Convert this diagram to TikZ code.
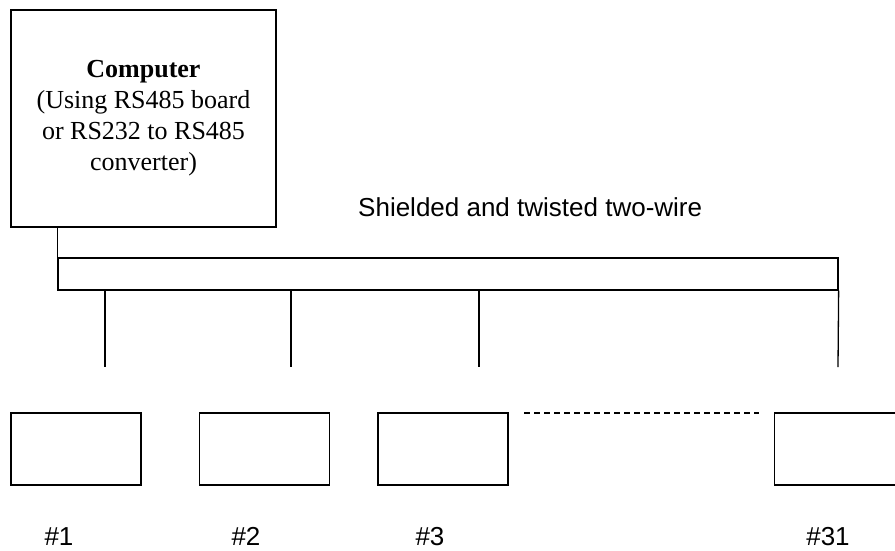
\documentclass[tikz,border=0pt]{standalone}
\usepackage{fontspec}
\setmainfont{Liberation Serif}
\newfontfamily\arialfont{Liberation Sans}
\usetikzlibrary{calc}

\begin{document}
\begin{tikzpicture}[x=1pt, y=-1pt]
        % ================= 样式定义 =================
        \tikzset{
            % 电脑方框:白底黑边,Times 字体
            pcbox/.style={draw=black, line width=1.3pt, fill=white, minimum width=265pt, minimum height=217pt, inner sep=0pt, align=center, font=\fontsize{26}{31}\selectfont},
            % 从站方框 (空白)
            devbox/.style={draw=black, line width=1.3pt, minimum width=130pt, minimum height=72pt, inner sep=0pt},
            % 双绞线总线
            busbox/.style={draw=black, line width=1.3pt, minimum width=780pt, minimum height=32pt, inner sep=0pt},
            % 普通连线
            wire/.style={line width=1.3pt, black},
            % 省略号虚线
            gapline/.style={line width=1.3pt, black, dash pattern=on 6pt off 4pt},
            % Arial 标注
            sanslabel/.style={font=\arialfont\fontsize{26}{30}\selectfont, inner sep=0pt}
        }

        % 画布范围 (与原图一致)
        \clip (0,0) rectangle (895,550);

        % ================= 上部:电脑与总线 =================
        \node[pcbox] (pc) at (143.5,118.5) {\textbf{Computer}\\(Using RS485 board\\or RS232 to RS485\\converter)};

        \node[sanslabel, anchor=base west] (cable) at (358,216) {Shielded and twisted two-wire};

        \node[busbox] (bus) at (448,274) {};

        % 电脑连到总线
        \draw[wire] (pc.south -| bus.west) -- (bus.north west);

        % ================= 下部:从站 =================
        % 总线引出线的下端
        \coordinate (tap1) at (105,367);
        \coordinate (tap2) at (291,367);
        \coordinate (tap3) at (479,367);
        \coordinate (tap31) at (838,367);

        \draw[wire] (bus.south -| tap1) -- (tap1);
        \draw[wire] (bus.south -| tap2) -- (tap2);
        \draw[wire] (bus.south -| tap3) -- (tap3);
        \draw[wire] (bus.south east) -- (tap31);

        % 从站方框
        \node[devbox] (dev1) at (76,449) {};
        \node[devbox] (dev2) at (264.5,449) {};
        \node[devbox] (dev3) at (443,449) {};
        \node[devbox] (dev31) at (839.5,449) {};

        % 省略号
        \coordinate (gapL) at (524,413);
        \coordinate (gapR) at (759,413);
        \draw[gapline] (gapL) -- (gapR);

        % 编号
        \node[sanslabel, anchor=base] (lab1) at (59,545) {\#1};
        \node[sanslabel, anchor=base] (lab2) at (246,545) {\#2};
        \node[sanslabel, anchor=base] (lab3) at (430,545) {\#3};
        \node[sanslabel, anchor=base] (lab31) at (828,545) {\#31};

    \end{tikzpicture}
\end{document}
